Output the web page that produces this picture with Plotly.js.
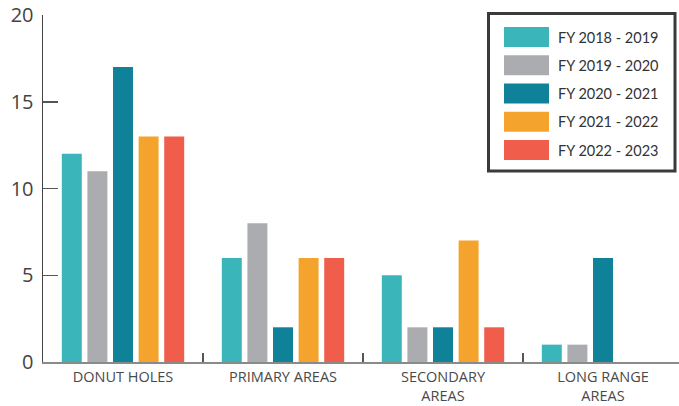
<!DOCTYPE html>
<html>
<head>
<meta charset="utf-8">
<script src="https://cdn.plot.ly/plotly-3.0.1.min.js"></script>
<style>
  html, body { margin: 0; padding: 0; background: #fff; }
  #chart { width: 679px; height: 406px; }
</style>
</head>
<body>
<div id="chart"></div>
<script>
// Service-area categories (two-line labels use <br>)
const categories = ['DONUT HOLES', 'PRIMARY AREAS', 'SECONDARY<br>AREAS', 'LONG RANGE<br>AREAS'];

// Fiscal-year series
const seriesNames = ['FY 2018 - 2019', 'FY 2019 - 2020', 'FY 2020 - 2021', 'FY 2021 - 2022', 'FY 2022 - 2023'];
const fy2018 = [12, 6, 5, 1];
const fy2019 = [11, 8, 2, 1];
const fy2020 = [17, 2, 2, 6];
const fy2021 = [13, 6, 7, 0];
const fy2022 = [13, 6, 2, 0];
const seriesValues = [fy2018, fy2019, fy2020, fy2021, fy2022];

const colors = ['#3AB5B9', '#ABACB0', '#0F829A', '#F4A42C', '#F05D4A'];

const W = 679, H = 406;
const M = { l: 43, r: 0, t: 15, b: 44 };
const plotW = W - M.l - M.r, plotH = H - M.t - M.b;
const px = x => (x - M.l) / plotW;
const py = y => (H - M.b - y) / plotH;

const traces = seriesValues.map((vals, i) => ({
  type: 'bar',
  name: seriesNames[i],
  x: categories,
  y: vals,
  marker: { color: colors[i], line: { width: 0 } },
  hoverinfo: 'x+y+name'
}));

// Legend drawn as a framed box with wide colour swatches
const shapes = [{
  type: 'rect', xref: 'paper', yref: 'paper',
  x0: px(488.5), x1: px(675), y0: py(171), y1: py(13.5),
  line: { color: '#3a3a3a', width: 3 }, fillcolor: '#ffffff', layer: 'above'
}];
const annotations = [];
const rowTop = 27, rowStep = 28.25, swH = 20;
seriesNames.forEach((name, i) => {
  const top = rowTop + i * rowStep;
  shapes.push({
    type: 'rect', xref: 'paper', yref: 'paper',
    x0: px(504), x1: px(549), y0: py(top + swH), y1: py(top),
    line: { width: 0 }, fillcolor: colors[i], layer: 'above'
  });
  annotations.push({
    xref: 'paper', yref: 'paper', x: px(556), y: py(top + swH / 2),
    xanchor: 'left', yanchor: 'middle', showarrow: false,
    text: name, font: { family: 'Lato, "Open Sans", sans-serif', size: 14.5, color: '#333' }
  });
});

const layout = {
  width: W, height: H,
  margin: M,
  paper_bgcolor: '#ffffff', plot_bgcolor: '#ffffff',
  barmode: 'group',
  bargap: 0.2,
  bargroupgap: 0.22,
  showlegend: false,
  font: { family: '"Open Sans", Lato, sans-serif', color: '#444' },
  xaxis: {
    type: 'category',
    range: [-0.5, 3.475],
    showline: true, linecolor: '#8a8a8a', linewidth: 2,
    ticks: 'inside', tickson: 'boundaries', ticklen: 9, tickwidth: 1.5, tickcolor: '#555',
    tickfont: { family: '"Open Sans", Lato, sans-serif', size: 14.5, color: '#4a4a4a' },
    ticklabelstandoff: 1,
    showgrid: false, zeroline: false, fixedrange: true
  },
  yaxis: {
    range: [0, 20],
    tickvals: [0, 5, 10, 15, 20],
    showline: true, linecolor: '#444', linewidth: 1.5,
    ticks: 'inside', ticklen: 15, tickwidth: 1.5, tickcolor: '#555',
    tickfont: { family: '"Open Sans", Lato, sans-serif', size: 20, color: '#444' },
    ticklabelstandoff: 4,
    showgrid: false, zeroline: false, fixedrange: true
  },
  shapes: shapes,
  annotations: annotations
};

Plotly.newPlot('chart', traces, layout, { displayModeBar: false, staticPlot: true });
</script>
</body>
</html>
